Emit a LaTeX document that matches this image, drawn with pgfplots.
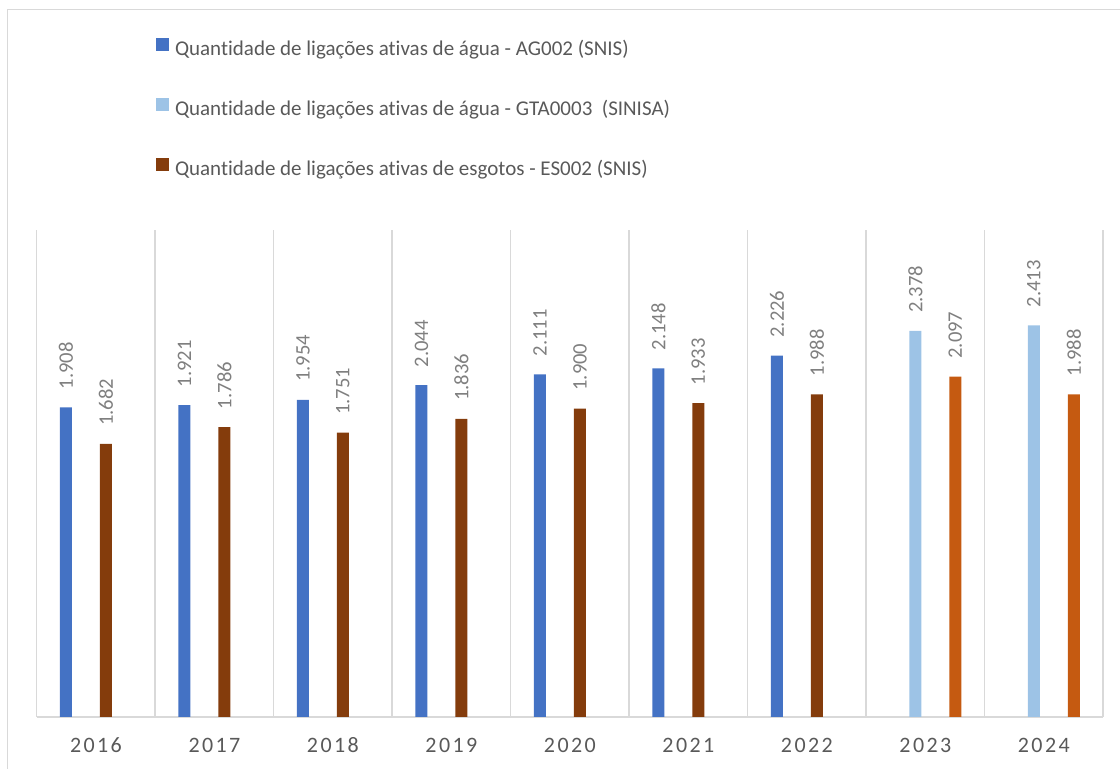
\documentclass[border=0pt]{standalone}
\usepackage{fontspec}
\setmainfont{Carlito}[Ligatures=NoCommon]
\usepackage{pgfplots}
\pgfplotsset{compat=1.18}
\definecolor{cBlue}{HTML}{4472C4}
\definecolor{cLBlue}{HTML}{9DC3E6}
\definecolor{cBrown}{HTML}{843C0C}
\definecolor{cOrange}{HTML}{C55A11}
\definecolor{cGrid}{HTML}{D9D9D9}
\definecolor{cText}{HTML}{595959}
\definecolor{cLabel}{HTML}{7F7F7F}
\pgfplotsset{sqlegend/.style={legend image code/.code={\fill[##1] (0pt,0pt) rectangle (6.5pt,6.5pt);}}}
\begin{document}
\begin{tikzpicture}
\clip (0,0) rectangle (560pt,384.5pt);
\draw[cGrid, line width=0.8pt] (3.75pt,-1pt) -- (3.75pt,379.75pt) -- (562pt,379.75pt);
\begin{axis}[
  at={(18.35pt,26pt)}, anchor=south west,
  width=533.2pt, height=243.5pt, scale only axis,
  xmin=-0.5, xmax=8.5, ymin=0, ymax=3000,
  axis x line*=bottom, axis y line=none,
  xtick={0,...,8}, xticklabels={2016,2017,2018,2019,2020,2021,2022,2023,2024},
  minor xtick={-0.5,0.5,...,8.5},
  xminorgrids, minor grid style={cGrid, line width=0.8pt},
  x axis line style={cGrid, line width=0.8pt},
  major tick length=0pt, minor tick length=0pt,
  xticklabel style={font=\fontsize{11pt}{13pt}\selectfont\addfontfeature{LetterSpace=11}, text=cText, anchor=center, yshift=-14pt},
  ybar, bar width=6pt,
  /pgf/number format/1000 sep={.},
  /pgf/number format/assume math mode=true,
  nodes near coords={\pgfmathprintnumber{\pgfplotspointmeta}},
  every node near coord/.append style={rotate=90, anchor=west, font=\fontsize{10.3pt}{12pt}\selectfont, text=cLabel, inner xsep=9pt, inner ysep=0pt, outer sep=0pt},
  legend style={at={(0.1119,1.3932)}, anchor=north west, draw=none, fill=none, inner sep=0pt, outer sep=0pt, row sep=18.25pt, font=\fontsize{10.5pt}{12pt}\selectfont, text=cText, nodes={inner xsep=3pt, inner ysep=0pt, text height=7.5pt, text depth=3pt}},
  legend cell align=left,
]
\addplot[fill=cBlue, draw=none, bar shift=-15pt, sqlegend] coordinates {(0,1908) (1,1921) (2,1954) (3,2044) (4,2111) (5,2148) (6,2226)};
\addlegendentry{Quantidade de ligações ativas de água - AG002 (SNIS)}
\addplot[fill=cLBlue, draw=none, bar shift=-5pt, sqlegend] coordinates {(7,2378) (8,2413)};
\addlegendentry{Quantidade de ligações ativas de água - GTA0003~ (SINISA)}
\addplot[fill=cBrown, draw=none, bar shift=5pt, sqlegend] coordinates {(0,1682) (1,1786) (2,1751) (3,1836) (4,1900) (5,1933) (6,1988)};
\addlegendentry{Quantidade de ligações ativas de esgotos - ES002 (SNIS)}
\addplot[fill=cOrange, draw=none, bar shift=15pt, sqlegend] coordinates {(7,2097) (8,1988)};
\end{axis}
\end{tikzpicture}
\end{document}
